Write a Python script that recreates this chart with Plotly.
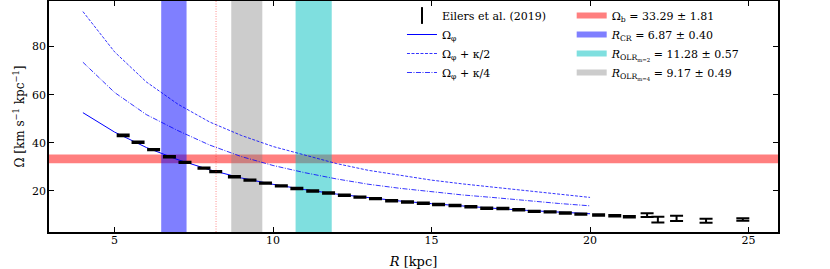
import plotly.graph_objects as go

# ---------------- data ----------------
# Eilers et al. (2019) angular frequency
R_data = [5.27, 5.74, 6.23, 6.73, 7.22, 7.82, 8.19, 8.78, 9.27, 9.76, 10.26, 10.75,
          11.25, 11.75, 12.25, 12.74, 13.23, 13.74, 14.24, 14.74, 15.22, 15.74, 16.24,
          16.74, 17.25, 17.75, 18.24, 18.74, 19.22, 19.71, 20.27, 20.78, 21.24, 21.80,
          22.14, 22.73, 23.66, 24.82]
Omega_data = [43.04, 40.21, 37.11, 34.16, 31.80, 29.40, 27.94, 25.80, 24.40, 23.15, 22.00, 20.91,
              19.91, 19.05, 18.14, 17.33, 16.70, 15.83, 15.26, 14.76, 14.26, 13.81, 13.31,
              12.70, 12.55, 12.04, 11.40, 11.18, 10.74, 10.24, 9.86, 9.54, 9.19, 9.80,
              7.99, 8.50, 7.47, 7.99]
Omega_err = [0.36, 0.3, 0.3, 0.3, 0.3, 0.3, 0.3, 0.3, 0.3, 0.3, 0.3, 0.3,
             0.3, 0.3, 0.3, 0.3, 0.3, 0.3, 0.3, 0.3, 0.3, 0.3, 0.3,
             0.3, 0.3, 0.3, 0.3, 0.3, 0.3, 0.3, 0.3, 0.3, 0.3, 0.8,
             1.2, 1.1, 0.8, 0.5]

# model curves
R_model = [4, 5, 6, 7, 8, 9, 10, 11, 12, 13, 14, 15, 16, 17, 18, 19, 20]
Omega_phi = [52.5, 44.4, 38.0, 32.9, 28.7, 25.3, 22.65, 20.45, 18.6, 17.1, 15.7, 14.6,
             13.55, 12.65, 11.8, 11.1, 10.4]
Omega_k2 = [94.6, 77.8, 65.3, 56.0, 48.6, 43.0, 38.4, 34.7, 31.3, 28.5, 26.3, 24.4,
            22.8, 21.4, 19.8, 18.4, 17.2]
Omega_k4 = [73.5, 60.9, 51.7, 45.0, 39.0, 34.2, 30.5, 27.5, 24.9, 22.7, 21.0, 19.5,
            18.2, 17.1, 15.8, 14.7, 13.7]

# resonances / pattern speed (value, uncertainty)
Omega_b, Omega_b_err = 33.29, 1.81
R_CR, R_CR_err = 6.87, 0.40
R_OLR2, R_OLR2_err = 11.28, 0.57
R_OLR4, R_OLR4_err = 9.17, 0.49
R_sun = 8.2

x_range = [2.93, 25.93]
y_range = [2.8, 99.0]
x_ticks = [5, 10, 15, 20, 25]
y_ticks = [20, 40, 60, 80]

FONT = "DejaVu Serif"

fig = go.Figure()

def vband(center, err, color, name):
    lo, hi = center - err, center + err
    fig.add_trace(go.Scatter(
        x=[lo, hi, hi, lo, lo], y=[y_range[0], y_range[0], y_range[1], y_range[1], y_range[0]],
        mode="none", fill="toself", fillcolor=color, name=name, legend="legend2",
        hoverinfo="skip"))

# horizontal band (pattern speed)
fig.add_trace(go.Scatter(
    x=[x_range[0], x_range[1], x_range[1], x_range[0], x_range[0]],
    y=[Omega_b - Omega_b_err, Omega_b - Omega_b_err, Omega_b + Omega_b_err,
       Omega_b + Omega_b_err, Omega_b - Omega_b_err],
    mode="none", fill="toself", fillcolor="rgba(255,0,0,0.5)",
    name="Ω<sub>b</sub> = 33.29 ± 1.81", legend="legend2", hoverinfo="skip"))
vband(R_CR, R_CR_err, "rgba(0,0,255,0.5)", "<i>R</i><sub>CR</sub> = 6.87 ± 0.40")
vband(R_OLR2, R_OLR2_err, "rgba(0,191,191,0.5)",
      "<i>R</i><sub>OLR<sub>m=2</sub></sub> = 11.28 ± 0.57")
vband(R_OLR4, R_OLR4_err, "rgba(128,128,128,0.4)",
      "<i>R</i><sub>OLR<sub>m=4</sub></sub> = 9.17 ± 0.49")

# sun position
fig.add_vline(x=R_sun, line=dict(color="rgba(255,0,0,0.45)", width=1, dash="1px,1.5px"),
              layer="above")

# model curves
fig.add_trace(go.Scatter(x=R_model, y=Omega_phi, mode="lines", name="Ω<sub>φ</sub>",
                         line=dict(color="#0000ff", width=1), legendrank=2))
fig.add_trace(go.Scatter(x=R_model, y=Omega_k2, mode="lines", name="Ω<sub>φ</sub> + κ/2",
                         line=dict(color="#0000ff", width=0.8, dash="3px,1.5px"), legendrank=3))
fig.add_trace(go.Scatter(x=R_model, y=Omega_k4, mode="lines", name="Ω<sub>φ</sub> + κ/4",
                         line=dict(color="#0000ff", width=0.8, dash="5px,1.5px,1px,1.5px"),
                         legendrank=4))

# data with error bars
fig.add_trace(go.Scatter(x=R_data, y=Omega_data, mode="markers",
                         marker=dict(size=2, color="black", opacity=0),
                         error_y=dict(type="data", array=Omega_err, color="black",
                                      thickness=2, width=6.5),
                         showlegend=False, name="Eilers et al. (2019)"))
fig.add_trace(go.Scatter(x=[None], y=[None], mode="markers", name="Eilers et al. (2019)",
                         marker=dict(symbol="line-ns-open", size=12, color="black",
                                     line=dict(width=2, color="black")),
                         legendrank=1))

axis_common = dict(showline=True, linecolor="black", linewidth=1.5, mirror="allticks",
                   ticks="inside", ticklen=5, tickwidth=1, tickcolor="black",
                   showgrid=False, zeroline=False,
                   tickfont=dict(family=FONT, size=11, color="black"))

fig.update_xaxes(range=x_range, tickvals=x_ticks, ticklabelstandoff=-3, title=dict(
    text="<i>R</i> [kpc]", font=dict(family=FONT, size=13, color="black"), standoff=11),
    **axis_common)
fig.update_yaxes(range=y_range, tickvals=y_ticks, ticklabelstandoff=-1, title=dict(
    text="Ω [km s<sup>−1</sup> kpc<sup>−1</sup>]", font=dict(family=FONT, size=12, color="black"),
    standoff=5), **axis_common)

legend_common = dict(xref="paper", yref="paper", xanchor="left", yanchor="top",
                     bgcolor="rgba(0,0,0,0)", font=dict(family=FONT, size=11, color="black"),
                     tracegroupgap=0, itemwidth=30)
fig.update_layout(
    width=830, height=269,
    margin=dict(l=49, r=52, t=1, b=37, autoexpand=False),
    paper_bgcolor="white", plot_bgcolor="white",
    legend=dict(x=0.4842, y=1.0, **legend_common),
    legend2=dict(x=0.717, y=1.0, **legend_common),
    showlegend=True,
)

fig.write_html("out.html", config={"displayModeBar": False},
               post_script="document.body.style.margin='0px';")
